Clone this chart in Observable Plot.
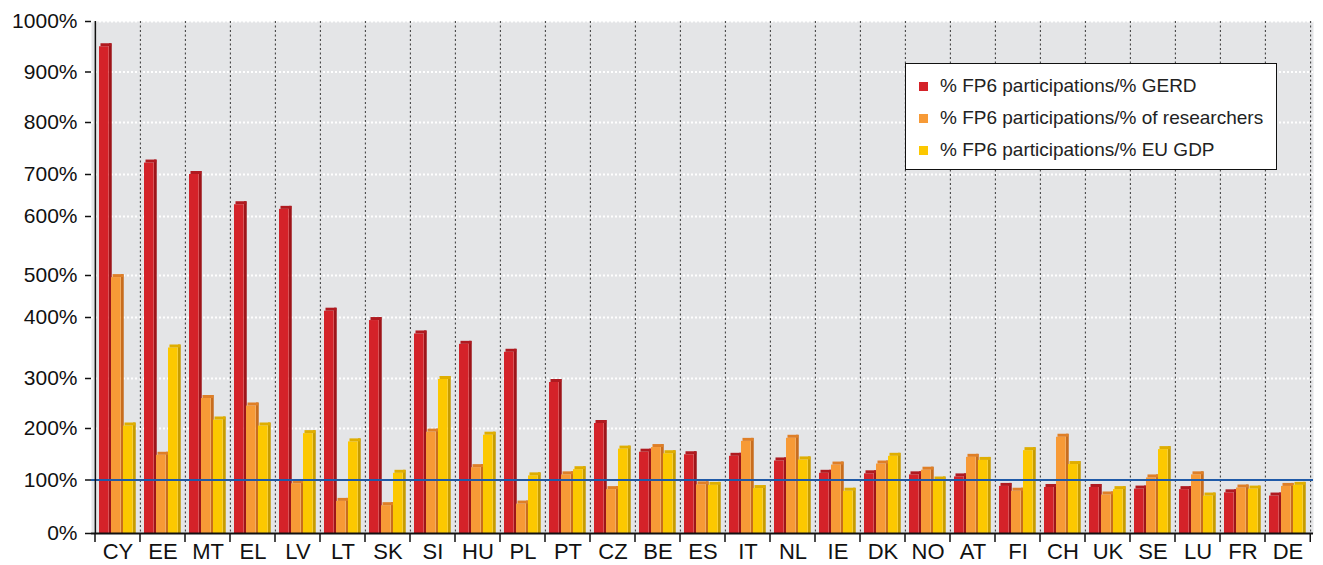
<!DOCTYPE html>
<html>
<head>
<meta charset="utf-8">
<script src="https://cdn.jsdelivr.net/npm/d3@7"></script>
<script src="https://cdn.jsdelivr.net/npm/@observablehq/plot@0.6"></script>
<style>
  html, body { margin: 0; padding: 0; background: #fff; }
  #wrap { position: relative; width: 1323px; height: 565px; font-family: "Liberation Sans", Arial, Helvetica, sans-serif; }
  #legend { position: absolute; left: 905px; top: 63px; width: 372px; height: 107px; border: 1.5px solid #111; background: #fff; box-sizing: border-box; padding-top: 6px; }
  .item { display: flex; align-items: center; height: 32px; font-size: 19px; color: #222; }
  .sw { width: 9px; height: 9px; margin-left: 13px; margin-right: 12px; }
</style>
</head>
<body>
<div id="wrap"><div id="chart"></div><div id="legend"></div></div>
<script>
const countries = ["CY","EE","MT","EL","LV","LT","SK","SI","HU","PL","PT","CZ","BE","ES","IT","NL","IE","DK","NO","AT","FI","CH","UK","SE","LU","FR","DE"];
const gerd = [950,722,700,628,617,415,395,373,356,343,292,210,154,149,146,137,113,112,110,106,88,86,86,83,82,76,70];
const researchers = [495,148,260,245,93,60,52,193,124,55,110,82,163,91,175,181,129,131,119,144,79,183,72,104,110,85,88];
const euGdp = [205,350,217,205,190,174,113,298,187,108,120,160,151,90,84,139,79,146,100,138,157,130,82,159,70,83,90];
const seriesNames = ["% FP6 participations/% GERD","% FP6 participations/% of researchers","% FP6 participations/% EU GDP"];
const yTicks = [0,100,200,300,400,500,600,700,800,900,1000];

const colors = [
  {front: "#d42229", side: "#9e1419", top: "#b01a20"},
  {front: "#f79a36", side: "#c86d1e", top: "#df7f27"},
  {front: "#fcc800", side: "#c79c00", top: "#dfae00"}
];
const seriesValues = [gerd, researchers, euGdp];

const W = 1323, H = 565, mL = 91, mR = 10, mT = 21, mB = 32;
const bw = (W - mL - mR) / countries.length;
const barW = 12, sideW = 2, padL = 4;

const marks = [Plot.frame({fill: "#e4e5e7", stroke: null})];
marks.push(Plot.ruleY(yTicks.filter(d => d > 0), {stroke: "#fff", strokeWidth: 2, strokeDasharray: "2,2"}));
marks.push(Plot.ruleX(countries.slice(1), {dx: -bw / 2, stroke: "#333", strokeWidth: 1, strokeDasharray: "2,2.5"}));
marks.push(Plot.ruleX([countries[countries.length - 1]], {dx: bw / 2, stroke: "#333", strokeWidth: 1, strokeDasharray: "2,2.5"}));

seriesValues.forEach((vals, i) => {
  const data = countries.map((c, j) => ({country: c, value: vals[j]}));
  const left = padL + i * barW;
  const c = colors[i];
  marks.push(Plot.barY(data, {x: "country", y: "value", fill: c.side,
    insetLeft: left + barW - sideW, insetRight: bw - left - barW - 1, insetTop: -3}));
  marks.push(Plot.barY(data, {x: "country", y: "value", fill: c.front,
    insetLeft: left, insetRight: bw - left - barW + sideW}));
  marks.push(Plot.barY(data, {x: "country", y1: "value", y2: "value", fill: c.top,
    insetLeft: left + 1.5, insetRight: bw - left - barW - 0.5, insetTop: -3}));
});

marks.push(Plot.ruleY([100], {stroke: "#1f5aa8", strokeWidth: 2}));
marks.push(Plot.ruleX([countries[0]], {dx: -bw / 2, stroke: "#111", strokeWidth: 1.5}));
marks.push(Plot.ruleY([0], {stroke: "#111", strokeWidth: 2}));
marks.push(Plot.axisY(yTicks, {tickSize: 6, tickPadding: 8, tickFormat: d => d + "%", fontSize: 21, stroke: "#111", color: "#111", strokeWidth: 1.5}));
marks.push(Plot.axisX({tickSize: 0, tickPadding: 10, fontSize: 22, color: "#111"}));

const chart = Plot.plot({
  width: W, height: H,
  marginLeft: mL, marginRight: mR, marginTop: mT, marginBottom: mB,
  style: {fontFamily: "'Liberation Sans', Arial, Helvetica, sans-serif", background: "transparent", color: "#111"},
  x: {type: "band", domain: countries, padding: 0, label: null},
  y: {type: "linear", domain: yTicks, range: [533, 479.5, 428, 378, 317, 275, 216, 174, 122, 71.5, 21], label: null},
  marks
});
document.getElementById("chart").appendChild(chart);

const xs = chart.scale("x");
const svg = d3.select(chart);
const yb = chart.scale("y").apply(0);
const bounds = countries.map(c => xs.apply(c)).concat([xs.apply(countries[countries.length - 1]) + bw]);
svg.append("g").selectAll("line").data(bounds).join("line")
  .attr("x1", d => d).attr("x2", d => d).attr("y1", yb).attr("y2", yb + 9)
  .attr("stroke", "#111").attr("stroke-width", 1.5);

const legend = document.getElementById("legend");
seriesNames.forEach((name, i) => {
  const it = document.createElement("div");
  it.className = "item";
  it.innerHTML = `<span class="sw" style="background:${colors[i].front}"></span><span>${name}</span>`;
  legend.appendChild(it);
});
</script>
</body>
</html>
